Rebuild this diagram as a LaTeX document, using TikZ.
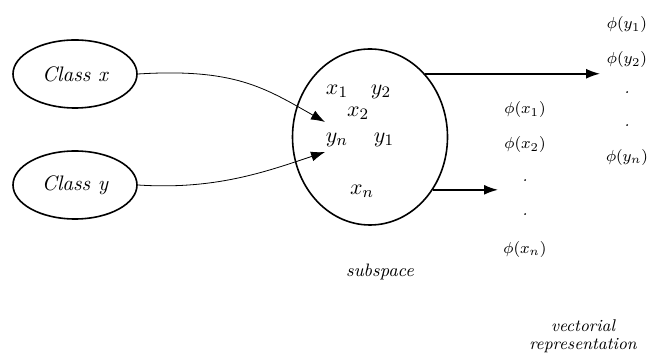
\documentclass[tikz,border=0pt]{standalone}
\usepackage{fontspec}
\usetikzlibrary{positioning, arrows.meta, shapes.geometric}

\begin{document}
\begin{tikzpicture}[x=0.5pt, y=-0.5pt, >={Latex[length=7pt,width=5pt]}, font=\itshape,
    cls/.style={draw, thick, ellipse, minimum width=62pt, minimum height=34pt, font=\itshape\fontsize{10.5}{12}\selectfont},
    elem/.style={font=\fontsize{11}{12}\selectfont, inner sep=0pt},
    vec/.style={font=\itshape\fontsize{8.5}{10}\selectfont, inner sep=0pt}]
        \useasboundingbox (0,0) rectangle (651,356);

        % Nodes
        \node (cx) [cls] at (75,74) {Class x};
        \node (cy) [cls] at (75,185) {Class y};
        \node (sub) [draw, thick, ellipse, minimum width=77.5pt, minimum height=88pt] at (370,137) {};

        \node (x1) [elem] at (337,91) {$x_1$};
        \node (y2) [elem] at (381,92) {$y_2$};
        \node (x2) [elem] at (358,113) {$x_2$};
        \node (yn) [elem] at (337,140) {$y_n$};
        \node (y1) [elem] at (384,140) {$y_1$};
        \node (xn) [elem] at (362,191) {$x_n$};

        \node (sublbl) [vec, font=\itshape\fontsize{9}{10}\selectfont] at (380,272) {subspace};

        \node (py1) [vec] at (627,25) {$\phi(y_1)$};
        \node (py2) [vec] at (627,60) {$\phi(y_2)$};
        \node (pyd1) [vec] at (627,93) {.};
        \node (pyd2) [vec] at (627,126) {.};
        \node (pyn) [vec] at (627,158) {$\phi(y_n)$};

        \node (px1) [vec] at (525,110) {$\phi(x_1)$};
        \node (px2) [vec] at (525,145) {$\phi(x_2)$};
        \node (pxd1) [vec] at (525,181) {.};
        \node (pxd2) [vec] at (525,215) {.};
        \node (pxn) [vec] at (525,250) {$\phi(x_n)$};

        \node (veclbl) [vec, align=center] at (583,336) {vectorial\\[-1pt]representation};

        \coordinate (tx) at (325,122);
        \coordinate (ty) at (325,152);
        \coordinate (ey) at (600,0);
        \coordinate (ex) at (498,0);

        % Arrows
        \draw[->] (cx.east) .. controls (235,68) and (265,88) .. (tx);
        \draw[->] (cy.east) .. controls (215,190) and (265,172) .. (ty);
        \draw[->, thick] (sub.49) -- (sub.49 -| ey);
        \draw[->, thick] (sub.-40) -- (sub.-40 -| ex);

    \end{tikzpicture}
\end{document}
